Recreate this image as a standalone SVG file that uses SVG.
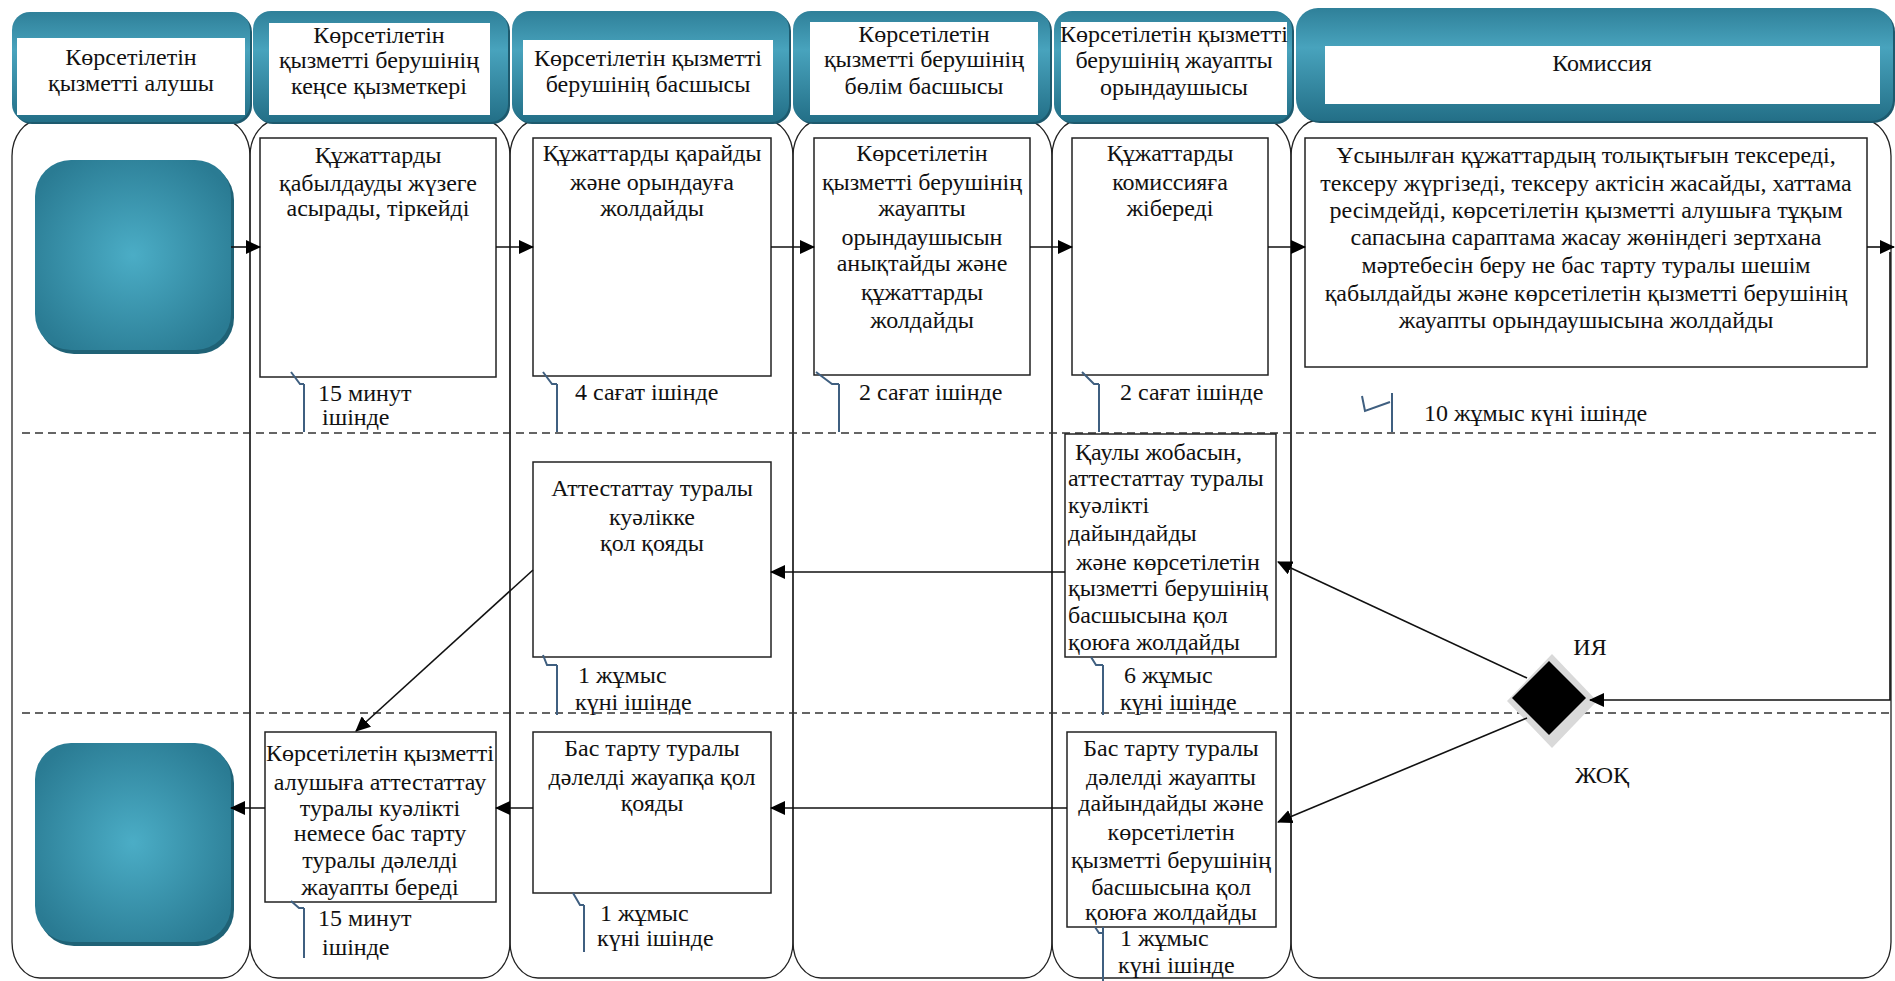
<svg xmlns="http://www.w3.org/2000/svg" width="1895" height="981" viewBox="0 0 1895 981" font-family="'Liberation Serif', 'DejaVu Serif', serif">
<defs>
<style>
text{font-family:'Liberation Serif','DejaVu Serif',serif;font-size:24px;fill:#111}
.c{text-anchor:middle}
.lane{fill:none;stroke:#222;stroke-width:1.3}
.box{fill:#fff;stroke:#222;stroke-width:1.5}
.hw{fill:#fff}
.dash{stroke:#333;stroke-width:1.6;stroke-dasharray:8 5;fill:none}
.con{stroke:#111;stroke-width:1.6;fill:none;marker-end:url(#ah)}
.co{stroke:#3f5f80;stroke-width:2;fill:none}
</style>
<linearGradient id="hg" x1="0" y1="0" x2="0" y2="1">
<stop offset="0" stop-color="#2f8099"/>
<stop offset="0.35" stop-color="#48a3bd"/>
<stop offset="1" stop-color="#236f87"/>
</linearGradient>
<radialGradient id="tg" cx="0.5" cy="0.5" r="0.6">
<stop offset="0" stop-color="#4badc6"/>
<stop offset="1" stop-color="#2a7b93"/>
</radialGradient>
<marker id="ah" markerUnits="userSpaceOnUse" markerWidth="16" markerHeight="14" refX="14" refY="7" orient="auto">
<path d="M0,0 L15,7 L0,14 Z" fill="#000"/>
</marker>
</defs>
<rect width="1895" height="981" fill="#fff"/>

<g id="lanes">
<rect class="lane" x="12" y="120" width="238" height="858" rx="28" ry="36"/>
<rect class="lane" x="250" y="120" width="260" height="858" rx="28" ry="36"/>
<rect class="lane" x="510" y="120" width="283" height="858" rx="28" ry="36"/>
<rect class="lane" x="793" y="120" width="259" height="858" rx="28" ry="36"/>
<rect class="lane" x="1052" y="120" width="239" height="858" rx="28" ry="36"/>
<rect class="lane" x="1291" y="120" width="600" height="858" rx="28" ry="36"/>
</g>

<g id="headers">
<g id="h1">
<rect x="14" y="14" width="238" height="110" rx="18" fill="#1d5a6e"/>
<rect x="12" y="12" width="238" height="110" rx="18" fill="url(#hg)"/>
<rect class="hw" x="17" y="38" width="228" height="77"/>
<text class="c" x="131" y="65">Көрсетілетін</text>
<text class="c" x="131" y="91">қызметті алушы</text>
</g>
<g id="h2">
<rect x="255" y="13" width="255" height="111" rx="18" fill="#1d5a6e"/>
<rect x="253" y="11" width="255" height="111" rx="18" fill="url(#hg)"/>
<rect class="hw" x="269" y="23" width="221" height="92"/>
<text class="c" x="379" y="43">Көрсетілетін</text>
<text class="c" x="379" y="68">қызметті берушінің</text>
<text class="c" x="379" y="94">кеңсе қызметкері</text>
</g>
<g id="h3">
<rect x="514" y="13" width="277" height="111" rx="18" fill="#1d5a6e"/>
<rect x="512" y="11" width="277" height="111" rx="18" fill="url(#hg)"/>
<rect class="hw" x="523" y="40" width="250" height="75"/>
<text class="c" x="648" y="66">Көрсетілетін қызметті</text>
<text class="c" x="648" y="92">берушінің басшысы</text>
</g>
<g id="h4">
<rect x="795" y="13" width="257" height="111" rx="18" fill="#1d5a6e"/>
<rect x="793" y="11" width="257" height="111" rx="18" fill="url(#hg)"/>
<rect class="hw" x="810" y="22" width="228" height="93"/>
<text class="c" x="924" y="42">Көрсетілетін</text>
<text class="c" x="924" y="67">қызметті берушінің</text>
<text class="c" x="924" y="94">бөлім басшысы</text>
</g>
<g id="h5">
<rect x="1056" y="13" width="238" height="111" rx="18" fill="#1d5a6e"/>
<rect x="1054" y="11" width="238" height="111" rx="18" fill="url(#hg)"/>
<rect class="hw" x="1061" y="22" width="226" height="93"/>
<text class="c" x="1174" y="42">Көрсетілетін қызметті</text>
<text class="c" x="1174" y="68">берушінің жауапты</text>
<text class="c" x="1174" y="95">орындаушысы</text>
</g>
<g id="h6">
<rect x="1298" y="10" width="597" height="113" rx="22" fill="#1d5a6e"/>
<rect x="1296" y="8" width="597" height="113" rx="22" fill="url(#hg)"/>
<rect class="hw" x="1325" y="46" width="555" height="58"/>
<text class="c" x="1602" y="71">Комиссия</text>
</g>
</g>

<g id="dividers">
<line class="dash" x1="22" y1="433" x2="1878" y2="433"/>
<line class="dash" x1="22" y1="713" x2="1893" y2="713"/>
</g>

<g id="start">
<rect x="38" y="164" width="196" height="190" rx="36" fill="#1f6276"/>
<rect x="35" y="160" width="196" height="190" rx="36" fill="url(#tg)"/>
</g>
<g id="end">
<rect x="38" y="747" width="196" height="199" rx="36" fill="#1f6276"/>
<rect x="35" y="743" width="196" height="199" rx="36" fill="url(#tg)"/>
</g>

<g id="nA">
<rect class="box" x="260" y="138" width="236" height="239"/>
<text class="c" x="378" y="163">Құжаттарды</text>
<text class="c" x="378" y="191">қабылдауды жүзеге</text>
<text class="c" x="378" y="216">асырады, тіркейді</text>
</g>
<g id="nB">
<rect class="box" x="533" y="138" width="238" height="238"/>
<text class="c" x="652" y="161">Құжаттарды қарайды</text>
<text class="c" x="652" y="190">және орындауға</text>
<text class="c" x="652" y="216">жолдайды</text>
</g>
<g id="nC">
<rect class="box" x="814" y="138" width="216" height="237"/>
<text class="c" x="922" y="161">Көрсетілетін</text>
<text class="c" x="922" y="190">қызметті берушінің</text>
<text class="c" x="922" y="216">жауапты</text>
<text class="c" x="922" y="245">орындаушысын</text>
<text class="c" x="922" y="271">анықтайды және</text>
<text class="c" x="922" y="300">құжаттарды</text>
<text class="c" x="922" y="328">жолдайды</text>
</g>
<g id="nD">
<rect class="box" x="1072" y="138" width="196" height="237"/>
<text class="c" x="1170" y="161">Құжаттарды</text>
<text class="c" x="1170" y="190">комиссияға</text>
<text class="c" x="1170" y="216">жібереді</text>
</g>
<g id="nE">
<rect class="box" x="1305" y="138" width="562" height="229"/>
<text class="c" x="1586" y="163">Ұсынылған құжаттардың толықтығын тексереді,</text>
<text class="c" x="1586" y="191">тексеру жүргізеді, тексеру актісін жасайды, хаттама</text>
<text class="c" x="1586" y="218">ресімдейді, көрсетілетін қызметті алушыға тұқым</text>
<text class="c" x="1586" y="245">сапасына сараптама жасау жөніндегі зертхана</text>
<text class="c" x="1586" y="273">мәртебесін беру не бас тарту туралы шешім</text>
<text class="c" x="1586" y="301">қабылдайды  және көрсетілетін қызметті берушінің</text>
<text class="c" x="1586" y="328">жауапты орындаушысына жолдайды</text>
</g>
<g id="nF">
<rect class="box" x="1065" y="434" width="211" height="223"/>
<text x="1075" y="460">Қаулы жобасын,</text>
<text x="1068" y="486">аттестаттау туралы</text>
<text x="1068" y="513">куәлікті</text>
<text x="1068" y="541">дайындайды</text>
<text x="1076" y="570">және  көрсетілетін</text>
<text x="1068" y="596">қызметті берушінің</text>
<text x="1068" y="623">басшысына қол</text>
<text x="1068" y="650">қоюға жолдайды</text>
</g>
<g id="nG">
<rect class="box" x="533" y="462" width="238" height="195"/>
<text class="c" x="652" y="496">Аттестаттау туралы</text>
<text class="c" x="652" y="525">куәлікке</text>
<text class="c" x="652" y="551">қол қояды</text>
</g>
<g id="nH">
<rect class="box" x="265" y="732" width="231" height="170"/>
<text class="c" x="380" y="761">Көрсетілетін қызметті</text>
<text class="c" x="380" y="790">алушыға аттестаттау</text>
<text class="c" x="380" y="816">туралы куәлікті</text>
<text class="c" x="380" y="841">немесе  бас тарту</text>
<text class="c" x="380" y="868">туралы дәлелді</text>
<text class="c" x="380" y="895">жауапты береді</text>
</g>
<g id="nI">
<rect class="box" x="533" y="732" width="238" height="161"/>
<text class="c" x="652" y="756">Бас тарту туралы</text>
<text class="c" x="652" y="785">дәлелді жауапқа қол</text>
<text class="c" x="652" y="811">қояды</text>
</g>
<g id="nJ">
<rect class="box" x="1067" y="732" width="209" height="195"/>
<text class="c" x="1171" y="756">Бас тарту туралы</text>
<text class="c" x="1171" y="785">дәлелді жауапты</text>
<text class="c" x="1171" y="811">дайындайды және</text>
<text class="c" x="1171" y="840">көрсетілетін</text>
<text class="c" x="1171" y="868">қызметті берушінің</text>
<text class="c" x="1171" y="895">басшысына қол</text>
<text class="c" x="1171" y="920">қоюға жолдайды</text>
</g>

<g id="decision">
<polygon points="1552,654 1597,701 1552,748 1507,701" fill="#d9d9d9"/>
<polygon points="1549,661 1586,698 1549,735 1512,698" fill="#000"/>
<text class="c" x="1590" y="655">ИЯ</text>
<text class="c" x="1602" y="783">ЖОҚ</text>
</g>

<g id="callouts">
<path class="co" d="M291,372 L300,384 L304,384 M304,384 L304,432"/>
<text x="318" y="401">15 минут</text>
<text x="322" y="425">ішінде</text>
<path class="co" d="M543,372 L552,384 L557,384 M557,384 L557,432"/>
<text x="575" y="400">4 сағат ішінде</text>
<path class="co" d="M816,372 L832,384 L839,384 M839,384 L839,432"/>
<text x="859" y="400">2 сағат ішінде</text>
<path class="co" d="M1082,372 L1094,384 L1099,384 M1099,384 L1099,432"/>
<text x="1120" y="400">2 сағат ішінде</text>
<path class="co" d="M1362,396 L1365,411 L1390,402 M1392,393 L1392,432"/>
<text x="1424" y="421">10 жұмыс күні ішінде</text>
<path class="co" d="M543,655 L547,665 L557,665 M557,665 L557,715"/>
<text x="578" y="683">1 жұмыс</text>
<text x="575" y="710">күні ішінде</text>
<path class="co" d="M1091,657 L1096,665 L1103,665 M1103,665 L1103,715"/>
<text x="1124" y="683">6 жұмыс</text>
<text x="1120" y="710">күні ішінде</text>
<path class="co" d="M291,901 L299,908 L304,908 M304,908 L304,958"/>
<text x="318" y="926">15 минут</text>
<text x="322" y="955">ішінде</text>
<path class="co" d="M573,893 L580,905 L584,905 M584,905 L584,952"/>
<text x="600" y="921">1 жұмыс</text>
<text x="597" y="946">күні ішінде</text>
<path class="co" d="M1095,927 L1099,933 L1103,933 M1103,927 L1103,981"/>
<text x="1120" y="946">1 жұмыс</text>
<text x="1118" y="973">күні ішінде</text>
</g>

<g id="connectors">
<line class="con" x1="231" y1="247" x2="260" y2="247"/>
<line class="con" x1="496" y1="247" x2="533" y2="247"/>
<line class="con" x1="771" y1="247" x2="814" y2="247"/>
<line class="con" x1="1030" y1="247" x2="1072" y2="247"/>
<line class="con" x1="1268" y1="247" x2="1305" y2="247"/>
<line class="con" x1="1867" y1="247" x2="1894" y2="247"/>
<polyline class="con" points="1890,252 1890,700 1590,700"/>
<line class="con" x1="1527" y1="678" x2="1278" y2="562"/>
<line class="con" x1="1065" y1="572" x2="771" y2="572"/>
<line class="con" x1="533" y1="570" x2="356" y2="731"/>
<line class="con" x1="265" y1="808" x2="231" y2="808"/>
<line class="con" x1="533" y1="808" x2="496" y2="808"/>
<line class="con" x1="1067" y1="808" x2="771" y2="808"/>
<line class="con" x1="1527" y1="718" x2="1278" y2="822"/>
</g>
</svg>
